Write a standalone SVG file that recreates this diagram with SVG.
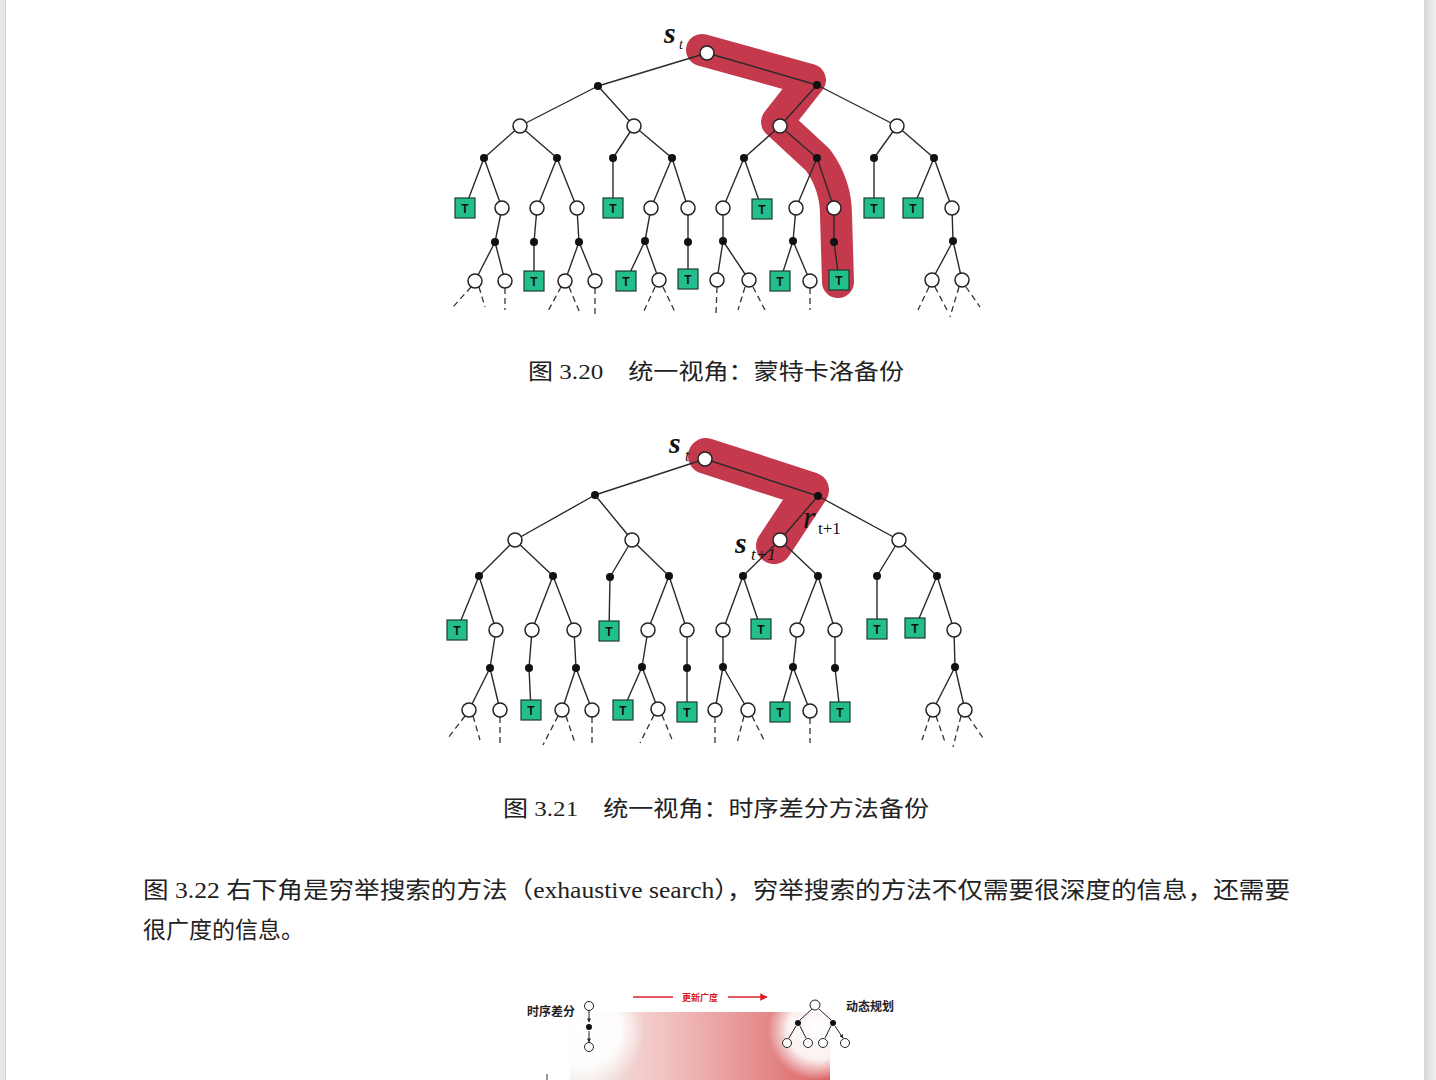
<svg xmlns="http://www.w3.org/2000/svg" width="1436" height="1080" viewBox="0 0 1436 1080">
<defs>
<style>
.e{stroke:#2a2a2a;stroke-width:1.4;fill:none}
.ds{stroke:#333;stroke-width:1.3;fill:none;stroke-dasharray:6 4}
.o{fill:#fff;stroke:#222;stroke-width:1.5}
.d{fill:#111}
.t{fill:#22bf8c;stroke:#1d3b30;stroke-width:1.2}
.tt{font-family:"Liberation Sans",Arial,sans-serif;font-size:12px;font-weight:bold;fill:#111;text-anchor:middle}
.hl{stroke:#c43a4c;fill:none;stroke-linecap:round;stroke-linejoin:round}
.lbl{font-family:"Liberation Serif","Times New Roman",serif;font-style:italic;fill:#111}
.cap{font-family:"Liberation Serif","Noto Sans CJK SC",serif;font-size:22px;fill:#222}
.par{font-family:"Liberation Serif","Noto Sans CJK SC",serif;font-size:23px;fill:#222}
.sm{font-family:"Noto Sans CJK SC",sans-serif;font-weight:bold;fill:#222}
</style>
<linearGradient id="bg" x1="0" y1="0" x2="1" y2="0">
<stop offset="0" stop-color="#eef0e8"/>
<stop offset="0.35" stop-color="#f2c4c4"/>
<stop offset="1" stop-color="#dc6464"/>
</linearGradient>
<radialGradient id="wg">
<stop offset="0" stop-color="#fff" stop-opacity="1"/>
<stop offset="0.6" stop-color="#fff" stop-opacity="0.9"/>
<stop offset="1" stop-color="#fff" stop-opacity="0"/>
</radialGradient>
<linearGradient id="rs" x1="0" y1="0" x2="1" y2="0">
<stop offset="0" stop-color="#d6d6d6"/>
<stop offset="1" stop-color="#f2f2f2"/>
</linearGradient>
<marker id="ah" viewBox="0 0 10 10" refX="9" refY="5" markerWidth="5" markerHeight="5" orient="auto"><path d="M0,0 L10,5 L0,10 z" fill="#d8202a"/></marker>
<marker id="ak" viewBox="0 0 10 10" refX="9" refY="5" markerWidth="4" markerHeight="4" orient="auto"><path d="M0,0 L10,5 L0,10 z" fill="#222"/></marker>
</defs>
<rect width="1436" height="1080" fill="#fff"/>
<rect x="0" y="0" width="6" height="1080" fill="#e8e8e8"/>
<line x1="5.5" y1="0" x2="5.5" y2="1080" stroke="#cfcfcf"/>
<rect x="1424" y="0" width="12" height="1080" fill="url(#rs)"/>

<!-- highlights -->
<g id="highlight1"><path class="hl" stroke-width="32" d="M702,50 L810,80 L777,122 L818,160 Q836,185 836,215 L838,282"/></g>
<g id="highlight2"><path class="hl" stroke-width="36" d="M706,456 L811,490 L774,546"/></g>

<g id="connectors">
<path class="e" d="M707,53L598,86M707,53L817,85M598,86L520,126M598,86L634,126M817,85L780,126M817,85L897,126M520,126L484,158M520,126L557,158M634,126L613,158M634,126L672,158M780,126L744,158M780,126L817,158M897,126L874,158M897,126L934,158M484,158L465,208M484,158L502,208M557,158L537,208M557,158L577,208M613,158L613,208M672,158L651,208M672,158L688,208M744,158L723,208M744,158L762,209M817,158L796,208M817,158L834,208M874,158L874,208M934,158L913,208M934,158L952,208M502,208L495,242M537,208L534,242M577,208L579,242M651,208L645,241M688,208L688,242M723,208L723,241M796,208L793,241M834,208L834,242M952,208L953,241M495,242L475,281M495,242L505,281M534,242L534,281M579,242L565,281M579,242L595,281M645,241L626,281M645,241L659,280M688,242L688,279M723,241L717,280M723,241L749,280M793,241L780,281M793,241L810,281M834,242L839,280M953,241L932,280M953,241L962,280"/>
<path class="ds" d="M471,287L453,307M479,287L485,307M505,288L505,310M561,287L547,313M569,287L580,313M595,288L595,315M655,287L643,313M663,287L675,312M717,287L716,313M745,287L738,310M753,287L765,310M810,288L810,310M929,287L918,310M935,287L947,310M959,287L950,317M966,287L980,307"/>
<path class="e" d="M705,459L595,495M705,459L818,496M595,495L515,540M595,495L632,540M818,496L780,540M818,496L899,540M515,540L479,576M515,540L553,576M632,540L610,577M632,540L669,576M780,540L743,576M780,540L818,576M899,540L877,576M899,540L937,576M479,576L457,630M479,576L496,630M553,576L532,630M553,576L574,630M610,577L609,631M669,576L648,630M669,576L687,630M743,576L723,630M743,576L761,629M818,576L797,630M818,576L835,630M877,576L877,629M937,576L915,628M937,576L954,630M496,630L490,668M532,630L529,668M574,630L576,668M648,630L642,667M687,630L687,668M723,630L723,667M797,630L793,667M835,630L835,668M954,630L955,667M490,668L469,710M490,668L500,710M529,668L531,710M576,668L562,710M576,668L592,710M642,667L623,710M642,667L658,709M687,668L687,712M723,667L715,710M723,667L748,710M793,667L780,712M793,667L810,711M835,668L840,712M955,667L933,710M955,667L965,710"/>
<path class="ds" d="M465,716L448,738M473,716L480,740M500,717L500,743M558,716L543,745M566,716L575,743M592,717L592,745M654,715L640,743M662,715L673,742M715,717L715,747M744,716L737,743M752,716L765,742M810,718L810,743M930,716L922,740M936,716L945,742M961,716L953,747M968,716L983,738"/>
</g>

<g id="tree1">
<circle class="o" cx="707" cy="53" r="7"/>
<circle class="d" cx="598" cy="86" r="4"/><circle class="d" cx="817" cy="85" r="4"/>
<circle class="o" cx="520" cy="126" r="7"/><circle class="o" cx="634" cy="126" r="7"/><circle class="o" cx="780" cy="126" r="7"/><circle class="o" cx="897" cy="126" r="7"/>
<circle class="d" cx="484" cy="158" r="4"/><circle class="d" cx="557" cy="158" r="4"/><circle class="d" cx="613" cy="158" r="4"/><circle class="d" cx="672" cy="158" r="4"/><circle class="d" cx="744" cy="158" r="4"/><circle class="d" cx="817" cy="158" r="4"/><circle class="d" cx="874" cy="158" r="4"/><circle class="d" cx="934" cy="158" r="4"/>
<g><rect class="t" x="455" y="198" width="20" height="20"/><text class="tt" x="465" y="212.5">T</text></g>
<circle class="o" cx="502" cy="208" r="7"/><circle class="o" cx="537" cy="208" r="7"/><circle class="o" cx="577" cy="208" r="7"/>
<g><rect class="t" x="603" y="198" width="20" height="20"/><text class="tt" x="613" y="212.5">T</text></g>
<circle class="o" cx="651" cy="208" r="7"/><circle class="o" cx="688" cy="208" r="7"/><circle class="o" cx="723" cy="208" r="7"/>
<g><rect class="t" x="752" y="199" width="20" height="20"/><text class="tt" x="762" y="213.5">T</text></g>
<circle class="o" cx="796" cy="208" r="7"/><circle class="o" cx="834" cy="208" r="7"/>
<g><rect class="t" x="864" y="198" width="20" height="20"/><text class="tt" x="874" y="212.5">T</text></g>
<g><rect class="t" x="903" y="198" width="20" height="20"/><text class="tt" x="913" y="212.5">T</text></g>
<circle class="o" cx="952" cy="208" r="7"/>
<circle class="d" cx="495" cy="242" r="4"/><circle class="d" cx="534" cy="242" r="4"/><circle class="d" cx="579" cy="242" r="4"/><circle class="d" cx="645" cy="241" r="4"/><circle class="d" cx="688" cy="242" r="4"/><circle class="d" cx="723" cy="241" r="4"/><circle class="d" cx="793" cy="241" r="4"/><circle class="d" cx="834" cy="242" r="4"/><circle class="d" cx="953" cy="241" r="4"/>
<circle class="o" cx="475" cy="281" r="7"/><circle class="o" cx="505" cy="281" r="7"/>
<g><rect class="t" x="524" y="271" width="20" height="20"/><text class="tt" x="534" y="285.5">T</text></g>
<circle class="o" cx="565" cy="281" r="7"/><circle class="o" cx="595" cy="281" r="7"/>
<g><rect class="t" x="616" y="271" width="20" height="20"/><text class="tt" x="626" y="285.5">T</text></g>
<circle class="o" cx="659" cy="280" r="7"/>
<g><rect class="t" x="678" y="269" width="20" height="20"/><text class="tt" x="688" y="283.5">T</text></g>
<circle class="o" cx="717" cy="280" r="7"/><circle class="o" cx="749" cy="280" r="7"/>
<g><rect class="t" x="770" y="271" width="20" height="20"/><text class="tt" x="780" y="285.5">T</text></g>
<circle class="o" cx="810" cy="281" r="7"/>
<g><rect class="t" x="829" y="270" width="20" height="20"/><text class="tt" x="839" y="284.5">T</text></g>
<circle class="o" cx="932" cy="280" r="7"/><circle class="o" cx="962" cy="280" r="7"/>
<text class="lbl" x="664" y="43" font-size="30" font-weight="bold">s</text><text class="lbl" x="679" y="49" font-size="14">t</text>
</g>

<g id="tree2">
<circle class="o" cx="705" cy="459" r="7"/>
<circle class="d" cx="595" cy="495" r="4"/><circle class="d" cx="818" cy="496" r="4"/>
<circle class="o" cx="515" cy="540" r="7"/><circle class="o" cx="632" cy="540" r="7"/><circle class="o" cx="780" cy="540" r="7"/><circle class="o" cx="899" cy="540" r="7"/>
<circle class="d" cx="479" cy="576" r="4"/><circle class="d" cx="553" cy="576" r="4"/><circle class="d" cx="610" cy="577" r="4"/><circle class="d" cx="669" cy="576" r="4"/><circle class="d" cx="743" cy="576" r="4"/><circle class="d" cx="818" cy="576" r="4"/><circle class="d" cx="877" cy="576" r="4"/><circle class="d" cx="937" cy="576" r="4"/>
<g><rect class="t" x="447" y="620" width="20" height="20"/><text class="tt" x="457" y="634.5">T</text></g>
<circle class="o" cx="496" cy="630" r="7"/><circle class="o" cx="532" cy="630" r="7"/><circle class="o" cx="574" cy="630" r="7"/>
<g><rect class="t" x="599" y="621" width="20" height="20"/><text class="tt" x="609" y="635.5">T</text></g>
<circle class="o" cx="648" cy="630" r="7"/><circle class="o" cx="687" cy="630" r="7"/><circle class="o" cx="723" cy="630" r="7"/>
<g><rect class="t" x="751" y="619" width="20" height="20"/><text class="tt" x="761" y="633.5">T</text></g>
<circle class="o" cx="797" cy="630" r="7"/><circle class="o" cx="835" cy="630" r="7"/>
<g><rect class="t" x="867" y="619" width="20" height="20"/><text class="tt" x="877" y="633.5">T</text></g>
<g><rect class="t" x="905" y="618" width="20" height="20"/><text class="tt" x="915" y="632.5">T</text></g>
<circle class="o" cx="954" cy="630" r="7"/>
<circle class="d" cx="490" cy="668" r="4"/><circle class="d" cx="529" cy="668" r="4"/><circle class="d" cx="576" cy="668" r="4"/><circle class="d" cx="642" cy="667" r="4"/><circle class="d" cx="687" cy="668" r="4"/><circle class="d" cx="723" cy="667" r="4"/><circle class="d" cx="793" cy="667" r="4"/><circle class="d" cx="835" cy="668" r="4"/><circle class="d" cx="955" cy="667" r="4"/>
<circle class="o" cx="469" cy="710" r="7"/><circle class="o" cx="500" cy="710" r="7"/>
<g><rect class="t" x="521" y="700" width="20" height="20"/><text class="tt" x="531" y="714.5">T</text></g>
<circle class="o" cx="562" cy="710" r="7"/><circle class="o" cx="592" cy="710" r="7"/>
<g><rect class="t" x="613" y="700" width="20" height="20"/><text class="tt" x="623" y="714.5">T</text></g>
<circle class="o" cx="658" cy="709" r="7"/>
<g><rect class="t" x="677" y="702" width="20" height="20"/><text class="tt" x="687" y="716.5">T</text></g>
<circle class="o" cx="715" cy="710" r="7"/><circle class="o" cx="748" cy="710" r="7"/>
<g><rect class="t" x="770" y="702" width="20" height="20"/><text class="tt" x="780" y="716.5">T</text></g>
<circle class="o" cx="810" cy="711" r="7"/>
<g><rect class="t" x="830" y="702" width="20" height="20"/><text class="tt" x="840" y="716.5">T</text></g>
<circle class="o" cx="933" cy="710" r="7"/><circle class="o" cx="965" cy="710" r="7"/>
<text class="lbl" x="669" y="453" font-size="30" font-weight="bold">s</text><text class="lbl" x="685" y="461" font-size="16">t</text>
<text class="lbl" x="803" y="528" font-size="32">r</text><text x="818" y="534" font-size="17" style="font-family:'Liberation Serif',serif;fill:#111">t+1</text>
<text class="lbl" x="735" y="553" font-size="30" font-weight="bold">s</text><text class="lbl" x="751" y="560" font-size="17">t+1</text>
</g>

<text class="cap" x="528" y="379" textLength="376" lengthAdjust="spacingAndGlyphs">图 3.20　统一视角：蒙特卡洛备份</text>
<text class="cap" x="503" y="816" textLength="426" lengthAdjust="spacingAndGlyphs">图 3.21　统一视角：时序差分方法备份</text>
<text class="par" x="143" y="898" textLength="1147" lengthAdjust="spacingAndGlyphs">图 3.22 右下角是穷举搜索的方法（exhaustive search），穷举搜索的方法不仅需要很深度的信息，还需要</text>
<text class="par" x="143" y="938">很广度的信息。</text>

<g id="fig322">
<rect x="570" y="1012" width="260" height="68" fill="url(#bg)"/>
<circle cx="585" cy="1030" r="60" fill="url(#wg)"/>
<circle cx="818" cy="1030" r="50" fill="url(#wg)"/>
<line x1="547" y1="1074" x2="547" y2="1080" stroke="#333" stroke-width="1"/>
<g id="td">
<text class="sm" x="527" y="1016" font-size="12">时序差分</text>
<line x1="589" y1="1011" x2="589" y2="1022" stroke="#222" stroke-width="1" marker-end="url(#ak)"/>
<line x1="589" y1="1031" x2="589" y2="1042" stroke="#222" stroke-width="1" marker-end="url(#ak)"/>
<circle cx="589" cy="1006" r="4.5" fill="#fff" stroke="#222" stroke-width="1"/>
<circle cx="589" cy="1027" r="3" fill="#111"/>
<circle cx="589" cy="1047" r="4.5" fill="#fff" stroke="#222" stroke-width="1"/>
</g>
<g id="arrow">
<line x1="633" y1="997" x2="673" y2="997" stroke="#d8202a" stroke-width="1.5"/>
<line x1="728" y1="997" x2="767" y2="997" stroke="#d8202a" stroke-width="1.5" marker-end="url(#ah)"/>
<text x="700" y="1001" font-family="Noto Sans CJK SC,sans-serif" font-size="9" font-weight="bold" fill="#d8202a" text-anchor="middle">更新广度</text>
</g>
<g id="dp">
<text class="sm" x="846" y="1011" font-size="12">动态规划</text>
<path d="M812,1009L800,1020M819,1009L831,1020M796,1026L789,1038M800,1026L806,1038M831,1026L825,1038M835,1026L843,1038" stroke="#222" stroke-width="1" fill="none" marker-end="url(#ak)"/>
<circle cx="815" cy="1005" r="5" fill="#fff" stroke="#222" stroke-width="1"/>
<circle cx="798" cy="1023" r="3" fill="#111"/>
<circle cx="833" cy="1023" r="3" fill="#111"/>
<circle cx="787" cy="1043" r="4.5" fill="#fff" stroke="#222" stroke-width="1"/>
<circle cx="808" cy="1043" r="4.5" fill="#fff" stroke="#222" stroke-width="1"/>
<circle cx="823" cy="1043" r="4.5" fill="#fff" stroke="#222" stroke-width="1"/>
<circle cx="845" cy="1043" r="4.5" fill="#fff" stroke="#222" stroke-width="1"/>
</g>
</g>
</svg>
